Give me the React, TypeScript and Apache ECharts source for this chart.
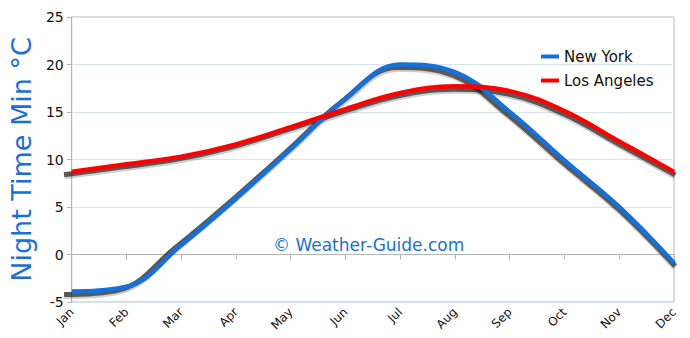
import React, { useEffect, useRef } from "react";
import * as echarts from "echarts";

const months = ["Jan", "Feb", "Mar", "Apr", "May", "Jun", "Jul", "Aug", "Sep", "Oct", "Nov", "Dec"];
const newYork = [-3.9, -3.4, 1.0, 5.9, 11.1, 16.4, 20.0, 19.2, 15.0, 9.9, 5.0, -0.9];
const losAngeles = [8.7, 9.5, 10.3, 11.6, 13.4, 15.3, 17.0, 17.7, 17.2, 15.1, 11.9, 8.7];
const seriesNames = ["New York", "Los Angeles"];
const yTitle = "Night Time Min °C";
const watermark = "© Weather-Guide.com";

const FONT = "'DejaVu Sans', 'Noto Sans', sans-serif";
const SMOOTH = 0.4;

export default function App() {
  const ref = useRef<HTMLDivElement>(null);
  useEffect(() => {
    if (!ref.current) return;
    const chart = echarts.init(ref.current, undefined, { renderer: "svg" });
    const hiddenCat = {
      type: "category",
      data: months,
      boundaryGap: false,
      show: false,
    };
    const hiddenVal = { type: "value", min: -5, max: 25, interval: 5, show: false, splitLine: { show: false } };
    const shadowLine = { width: 5, color: "rgba(25,25,25,0.65)" };
    const softShadow = { width: 7, color: "rgba(60,60,60,0.25)" };
    const shadowSeries = (data: number[]) => [
      {
        type: "line",
        data,
        xAxisIndex: 2,
        yAxisIndex: 2,
        smooth: SMOOTH,
        symbol: "none",
        silent: true,
        lineStyle: softShadow,
        z: 1,
      },
      {
        type: "line",
        data,
        xAxisIndex: 1,
        yAxisIndex: 1,
        smooth: SMOOTH,
        symbol: "none",
        silent: true,
        lineStyle: shadowLine,
        z: 1,
      },
    ];
    chart.setOption({
      animation: false,
      textStyle: { fontFamily: FONT },
      grid: [
        {
          left: 63,
          right: 16,
          top: 17,
          bottom: 36,
          show: true,
          borderColor: "#b4b4b4",
          borderWidth: 1,
        },
        { left: 64, right: 15, top: 20, bottom: 33 },
        { left: 64.5, right: 14.5, top: 21, bottom: 32 },
      ],
      legend: {
        orient: "vertical",
        left: 536,
        top: 44,
        itemWidth: 18,
        itemHeight: 4,
        itemGap: 9,
        icon: "rect",
        textStyle: { fontSize: 15, color: "#111", fontFamily: FONT },
        data: seriesNames,
      },
      xAxis: [
        {
          type: "category",
          data: months,
          boundaryGap: false,
          gridIndex: 0,
          axisLine: { lineStyle: { color: "#b4b4b4" } },
          axisTick: { show: true, length: 5, lineStyle: { color: "#b4b4b4" }, alignWithLabel: true },
          axisLabel: { rotate: 45, fontSize: 12, color: "#111", margin: 8, interval: 0 },
          splitLine: { show: false },
        },
        { ...hiddenCat, gridIndex: 1 },
        { ...hiddenCat, gridIndex: 2 },
      ],
      yAxis: [
        {
          type: "value",
          gridIndex: 0,
          min: -5,
          max: 25,
          interval: 5,
          name: yTitle,
          nameLocation: "middle",
          nameGap: 32,
          nameTextStyle: { fontSize: 27, color: "#1a6fd6", fontFamily: FONT },
          axisLine: { show: true, lineStyle: { color: "#b4b4b4" } },
          axisTick: { show: true, length: 5, lineStyle: { color: "#b4b4b4" } },
          axisLabel: { fontSize: 14, color: "#111", margin: 8 },
          splitLine: { show: true, lineStyle: { color: "#d5e3f2", width: 1 } },
        },
        { ...hiddenVal, gridIndex: 1 },
        { ...hiddenVal, gridIndex: 2 },
      ],
      graphic: [
        {
          type: "text",
          left: 273,
          top: 236,
          style: { text: watermark, fontSize: 17, fill: "#1a6fd6", fontFamily: FONT },
        },
      ],
      series: [
        ...shadowSeries(newYork),
        ...shadowSeries(losAngeles),
        {
          name: seriesNames[0],
          type: "line",
          data: newYork,
          smooth: SMOOTH,
          symbol: "none",
          color: "#1670d8",
          lineStyle: { width: 4.5, color: "#1670d8" },
          z: 3,
        },
        {
          name: seriesNames[1],
          type: "line",
          data: losAngeles,
          smooth: SMOOTH,
          symbol: "none",
          color: "#ff0000",
          lineStyle: { width: 4.5, color: "#ff0000" },
          z: 3,
        },
      ],
    });
    return () => chart.dispose();
  }, []);
  return <div ref={ref} style={{ width: 690, height: 338, position: "absolute", left: 0, top: 0 }} />;
}
